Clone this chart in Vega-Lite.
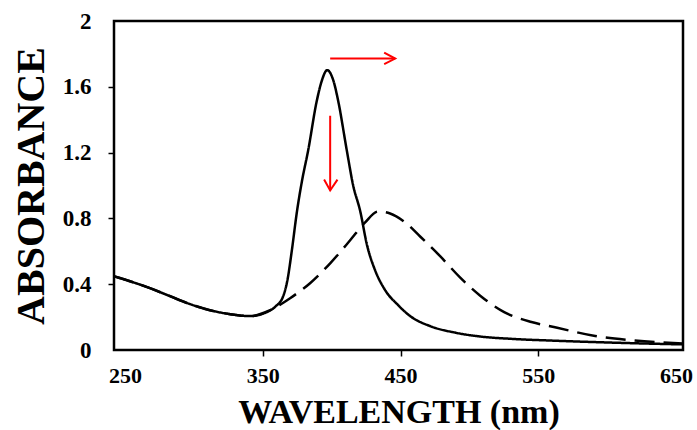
{
  "$schema": "https://vega.github.io/schema/vega-lite/v6.json",
  "width": 569,
  "height": 329,
  "autosize": {"type": "none"},
  "padding": {"left": 114, "top": 21, "right": 14, "bottom": 80},
  "background": "white",
  "config": {
    "view": {"stroke": "black", "strokeWidth": 2.5},
    "font": "Liberation Serif"
  },
  "datasets": {
    "spectra": [
      {"wavelength": 242, "absorbance": 0.448, "series": "A"},
      {"wavelength": 253.6, "absorbance": 0.418, "series": "A"},
      {"wavelength": 268.1, "absorbance": 0.376, "series": "A"},
      {"wavelength": 282.7, "absorbance": 0.327, "series": "A"},
      {"wavelength": 297.2, "absorbance": 0.279, "series": "A"},
      {"wavelength": 311.7, "absorbance": 0.242, "series": "A"},
      {"wavelength": 326.2, "absorbance": 0.218, "series": "A"},
      {"wavelength": 340.8, "absorbance": 0.206, "series": "A"},
      {"wavelength": 351.7, "absorbance": 0.226, "series": "A"},
      {"wavelength": 358.9, "absorbance": 0.262, "series": "A"},
      {"wavelength": 364.7, "absorbance": 0.325, "series": "A"},
      {"wavelength": 368, "absorbance": 0.43, "series": "A"},
      {"wavelength": 371, "absorbance": 0.6, "series": "A"},
      {"wavelength": 374.9, "absorbance": 0.848, "series": "A"},
      {"wavelength": 378.5, "absorbance": 1.03, "series": "A"},
      {"wavelength": 382.9, "absorbance": 1.212, "series": "A"},
      {"wavelength": 389.2, "absorbance": 1.515, "series": "A"},
      {"wavelength": 392.8, "absorbance": 1.636, "series": "A"},
      {"wavelength": 396.7, "absorbance": 1.701, "series": "A"},
      {"wavelength": 401.3, "absorbance": 1.636, "series": "A"},
      {"wavelength": 404.7, "absorbance": 1.515, "series": "A"},
      {"wavelength": 411, "absorbance": 1.212, "series": "A"},
      {"wavelength": 415.6, "absorbance": 1.0, "series": "A"},
      {"wavelength": 420.6, "absorbance": 0.848, "series": "A"},
      {"wavelength": 425.7, "absorbance": 0.636, "series": "A"},
      {"wavelength": 431.5, "absorbance": 0.485, "series": "A"},
      {"wavelength": 438.8, "absorbance": 0.364, "series": "A"},
      {"wavelength": 448.2, "absorbance": 0.273, "series": "A"},
      {"wavelength": 457, "absorbance": 0.206, "series": "A"},
      {"wavelength": 471.5, "absorbance": 0.145, "series": "A"},
      {"wavelength": 490, "absorbance": 0.105, "series": "A"},
      {"wavelength": 507.8, "absorbance": 0.082, "series": "A"},
      {"wavelength": 530, "absorbance": 0.068, "series": "A"},
      {"wavelength": 560, "absorbance": 0.057, "series": "A"},
      {"wavelength": 591.3, "absorbance": 0.048, "series": "A"},
      {"wavelength": 620, "absorbance": 0.041, "series": "A"},
      {"wavelength": 655, "absorbance": 0.034, "series": "A"},
      {"wavelength": 242, "absorbance": 0.448, "series": "B"},
      {"wavelength": 253.6, "absorbance": 0.418, "series": "B"},
      {"wavelength": 268.1, "absorbance": 0.376, "series": "B"},
      {"wavelength": 282.7, "absorbance": 0.327, "series": "B"},
      {"wavelength": 297.2, "absorbance": 0.279, "series": "B"},
      {"wavelength": 311.7, "absorbance": 0.242, "series": "B"},
      {"wavelength": 326.2, "absorbance": 0.218, "series": "B"},
      {"wavelength": 340.8, "absorbance": 0.206, "series": "B"},
      {"wavelength": 355.3, "absorbance": 0.242, "series": "B"},
      {"wavelength": 369.8, "absorbance": 0.315, "series": "B"},
      {"wavelength": 384.3, "absorbance": 0.406, "series": "B"},
      {"wavelength": 398.9, "absorbance": 0.527, "series": "B"},
      {"wavelength": 413.4, "absorbance": 0.667, "series": "B"},
      {"wavelength": 424.3, "absorbance": 0.776, "series": "B"},
      {"wavelength": 433.7, "absorbance": 0.842, "series": "B"},
      {"wavelength": 442.4, "absorbance": 0.83, "series": "B"},
      {"wavelength": 453.3, "absorbance": 0.776, "series": "B"},
      {"wavelength": 464.2, "absorbance": 0.69, "series": "B"},
      {"wavelength": 478.7, "absorbance": 0.57, "series": "B"},
      {"wavelength": 493.3, "absorbance": 0.44, "series": "B"},
      {"wavelength": 507.8, "absorbance": 0.33, "series": "B"},
      {"wavelength": 525.2, "absorbance": 0.23, "series": "B"},
      {"wavelength": 545, "absorbance": 0.17, "series": "B"},
      {"wavelength": 563.7, "absorbance": 0.135, "series": "B"},
      {"wavelength": 591.3, "absorbance": 0.085, "series": "B"},
      {"wavelength": 620, "absorbance": 0.058, "series": "B"},
      {"wavelength": 655, "absorbance": 0.04, "series": "B"}
    ],
    "arrows": [
      {"seg": "h-shaft", "k": 0, "wavelength": 398.9, "absorbance": 1.7715},
      {"seg": "h-shaft", "k": 1, "wavelength": 446.1, "absorbance": 1.7715},
      {"seg": "h-head", "k": 0, "wavelength": 438.1, "absorbance": 1.808},
      {"seg": "h-head", "k": 1, "wavelength": 446.1, "absorbance": 1.7715},
      {"seg": "h-head", "k": 2, "wavelength": 438.1, "absorbance": 1.7376},
      {"seg": "v-shaft", "k": 0, "wavelength": 398.9, "absorbance": 1.424},
      {"seg": "v-shaft", "k": 1, "wavelength": 398.9, "absorbance": 0.97},
      {"seg": "v-head", "k": 0, "wavelength": 394.5, "absorbance": 1.036},
      {"seg": "v-head", "k": 1, "wavelength": 398.9, "absorbance": 0.97},
      {"seg": "v-head", "k": 2, "wavelength": 404.2, "absorbance": 1.036}
    ]
  },
  "encoding": {
    "x": {
      "field": "wavelength",
      "type": "quantitative",
      "scale": {"domain": [242, 655], "nice": false, "zero": false},
      "axis": {
        "values": [250, 350, 450, 550, 650],
        "title": "WAVELENGTH (nm)",
        "domain": false,
        "grid": false,
        "tickSize": 6,
        "tickWidth": 1.5,
        "tickColor": {"condition": {"test": "datum.value == 250 || datum.value == 650", "value": "transparent"}, "value": "black"},
        "labelFont": "Liberation Serif",
        "labelFontWeight": "bold",
        "labelFontSize": 22,
        "labelColor": "black",
        "labelPadding": 9,
        "labelFlush": false,
        "titleFont": "Liberation Serif",
        "titleFontWeight": "bold",
        "titleFontSize": 34,
        "titleColor": "black",
        "titleBaseline": "alphabetic",
        "titleY": 72
      }
    },
    "y": {
      "field": "absorbance",
      "type": "quantitative",
      "scale": {"domain": [0, 2], "nice": false},
      "axis": {
        "values": [0, 0.4, 0.8, 1.2, 1.6, 2],
        "format": "~g",
        "title": "ABSORBANCE",
        "domain": false,
        "grid": false,
        "tickSize": 6,
        "tickWidth": 1.5,
        "tickColor": {"condition": {"test": "datum.value == 0 || datum.value == 2", "value": "transparent"}, "value": "black"},
        "labelFont": "Liberation Serif",
        "labelFontWeight": "bold",
        "labelFontSize": 23,
        "labelColor": "black",
        "labelPadding": 17,
        "labelFlush": false,
        "titleFont": "Liberation Serif",
        "titleFontWeight": "bold",
        "titleFontSize": 40,
        "titleColor": "black",
        "titleBaseline": "alphabetic",
        "titleX": -71
      }
    }
  },
  "layer": [
    {
      "data": {"name": "spectra"},
      "mark": {"type": "line", "color": "black", "strokeWidth": 2.5, "interpolate": "monotone"},
      "encoding": {
        "detail": {"field": "series"},
        "strokeDash": {
          "field": "series",
          "type": "nominal",
          "scale": {"domain": ["A", "B"], "range": [[1, 0], [20, 9]]},
          "legend": null
        }
      }
    },
    {
      "data": {"name": "arrows"},
      "mark": {"type": "line", "color": "#ff0000", "strokeWidth": 2},
      "encoding": {
        "detail": {"field": "seg"},
        "order": {"field": "k", "type": "quantitative"}
      }
    }
  ]
}
